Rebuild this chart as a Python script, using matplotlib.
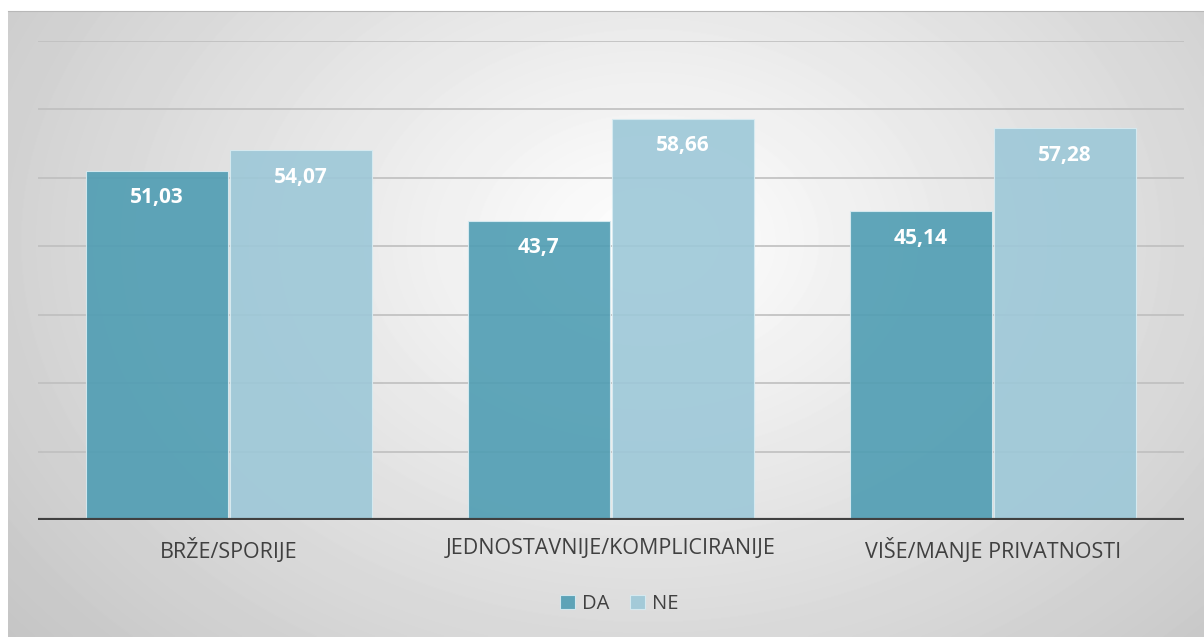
import matplotlib.pyplot as plt
import numpy as np

categories = ["BRŽE/SPORIJE", "JEDNOSTAVNIJE/KOMPLICIRANIJE", "VIŠE/MANJE PRIVATNOSTI"]
da_values = [51.03, 43.7, 45.14]
ne_values = [54.07, 58.66, 57.28]
da_labels = ["51,03", "43,7", "45,14"]
ne_labels = ["54,07", "58,66", "57,28"]

plt.rcParams['font.family'] = ['Open Sans', 'DejaVu Sans']

fig = plt.figure(figsize=(12.04, 6.37), dpi=100)

# radial grey background of the chart frame
bg = fig.add_axes([8 / 1204, 0, 1 - 8 / 1204, 1 - 11 / 637], zorder=-10)
yy, xx = np.mgrid[0:626, 0:1196]
r = np.sqrt(((xx - 640) / 700.0) ** 2 + ((yy - 230) / 520.0) ** 2)
shade = 1.0 - 0.24 * np.clip(r, 0, 1.25) / 1.25
bg.imshow(shade, cmap='gray', vmin=0, vmax=1, aspect='auto', interpolation='bilinear')
bg.set_xticks([])
bg.set_yticks([])
for s in ['left', 'right', 'bottom']:
    bg.spines[s].set_visible(False)
bg.spines['top'].set_color('#b8b8b8')

ax = fig.add_axes([38 / 1204, 1 - 520 / 637, 1146 / 1204, 479 / 637])
ax.patch.set_alpha(0)

x = np.arange(len(categories))
w = 0.372
b1 = ax.bar(x - w / 2 - 0.003, da_values, w, color='#4f9db3', alpha=0.9,
            edgecolor='#d8ecf2', linewidth=0.8, label='DA', zorder=3)
b2 = ax.bar(x + w / 2 + 0.003, ne_values, w, color='#9dc8d8', alpha=0.9,
            edgecolor='#d8ecf2', linewidth=0.8, label='NE', zorder=3)

for bars, labels in [(b1, da_labels), (b2, ne_labels)]:
    for rect, lab in zip(bars, labels):
        ax.annotate(lab, (rect.get_x() + rect.get_width() / 2, rect.get_height()),
                    xytext=(0, -27), textcoords='offset pixels', ha='center', va='center',
                    color='white', fontsize=15, fontweight='bold', zorder=4)

ax.set_xlim(-0.5, 2.5)
ax.set_ylim(0, 70)
ax.set_yticks(np.arange(10, 71, 10))
ax.yaxis.grid(True, color='#bfbfbf', linewidth=1.2, zorder=0)
ax.axhline(0, color='#404040', linewidth=3, zorder=5)
ax.tick_params(axis='y', left=False, labelleft=False)
ax.tick_params(axis='x', length=0, pad=13, labelsize=15.5, labelcolor='#404040')
ax.set_xticks(x)
ax.set_xticklabels(categories)
for s in ax.spines.values():
    s.set_visible(False)

fig.legend(handles=[b1, b2], labels=['DA', 'NE'], loc='center',
           bbox_to_anchor=(619 / 1204, 1 - 604 / 637), ncol=2, frameon=False,
           fontsize=14.5, handlelength=0.75, handleheight=0.75, handletextpad=0.35,
           columnspacing=1.0, labelcolor='#404040')

fig.savefig('out.png', dpi=100)
